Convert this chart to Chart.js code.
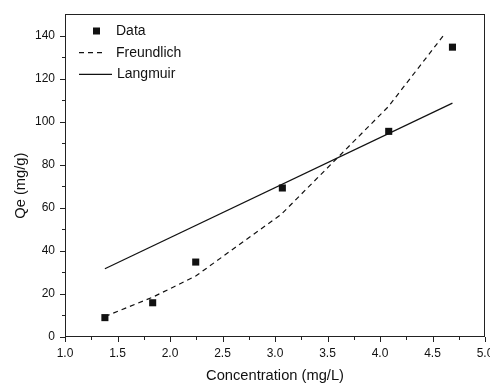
<!DOCTYPE html>
<html>
<head>
<meta charset="utf-8">
<script src="https://cdn.jsdelivr.net/npm/chart.js@4.4.1/dist/chart.umd.min.js"></script>
<style>
  html, body { margin: 0; padding: 0; background: #fff; }
  #chart { display: block; }
</style>
</head>
<body>
<canvas id="chart" width="490" height="383"></canvas>
<script>
// measured points
const dataX = [1.38, 1.835, 2.245, 3.07, 4.083, 4.69];
const dataY = [9.0, 15.9, 34.8, 69.2, 95.5, 134.6];

// fitted curves
const freundlichX = [1.38, 1.835, 2.245, 3.06, 4.08, 4.62];
const freundlichY = [9.5, 18.5, 28.3, 57, 107, 141];
const langmuirX = [1.38, 4.69];
const langmuirY = [31.7, 108.6];

const seriesNames = ['Data', 'Freundlich', 'Langmuir'];
const xTitle = 'Concentration (mg/L)';
const yTitle = 'Qe (mg/g)';

const toPoints = (xs, ys) => xs.map((x, i) => ({x: x, y: ys[i]}));

const FONT = "'Liberation Sans', Arial, sans-serif";
const INK = '#111';

// box round the plot + outward tick marks (major and minor)
const framePlugin = {
  id: 'frame',
  afterDraw(chart) {
    const ctx = chart.ctx;
    const a = chart.chartArea;
    const xs = chart.scales.x;
    const ys = chart.scales.y;
    ctx.save();
    ctx.strokeStyle = '#222';
    ctx.lineWidth = 1;
    ctx.strokeRect(a.left + 0.5, a.top + 0.5, a.right - a.left - 1, a.bottom - a.top - 1);
    ctx.beginPath();
    xs.ticks.forEach(t => {
      const px = Math.round(xs.getPixelForValue(t.value)) + 0.5;
      const len = (t.value % 0.5 === 0) ? 5 : 3;
      ctx.moveTo(px, a.bottom);
      ctx.lineTo(px, a.bottom + len);
    });
    ys.ticks.forEach(t => {
      if (t.value > 140) return;
      const py = Math.round(ys.getPixelForValue(t.value)) + 0.5;
      const len = (t.value % 20 === 0) ? 5 : 3;
      ctx.moveTo(a.left, py);
      ctx.lineTo(a.left - len, py);
    });
    ctx.stroke();
    ctx.restore();
  }
};

// legend in the top-left corner of the plot
const legendPlugin = {
  id: 'insideLegend',
  afterDraw(chart) {
    const ctx = chart.ctx;
    const a = chart.chartArea;
    const x0 = a.left + 14;
    const y0 = a.top + 17;
    const rowH = 21.7;
    ctx.save();
    ctx.font = '14px ' + FONT;
    ctx.textBaseline = 'middle';
    ctx.fillStyle = INK;
    ctx.strokeStyle = INK;
    chart.data.datasets.forEach((ds, i) => {
      const cy = y0 + i * rowH;
      if (ds.showLine === false) {
        ctx.fillRect(x0 + 14, cy - 3.5, 7, 7);
        ctx.fillText(ds.label, x0 + 37, cy);
      } else {
        ctx.lineWidth = ds.borderWidth;
        ctx.setLineDash(ds.borderDash || []);
        ctx.beginPath();
        const len = ds.borderDash ? 27 : 33;
        ctx.moveTo(x0, cy);
        ctx.lineTo(x0 + len, cy);
        ctx.stroke();
        ctx.setLineDash([]);
        ctx.fillText(ds.label, x0 + (ds.borderDash ? 37 : 38), cy);
      }
    });
    ctx.restore();
  }
};

const ctx = document.getElementById('chart').getContext('2d');
const chart = new Chart(ctx, {
  type: 'scatter',
  data: {
    datasets: [
      {
        label: seriesNames[0],
        data: toPoints(dataX, dataY),
        showLine: false,
        pointStyle: 'rect',
        pointRadius: 5,
        pointHoverRadius: 5,
        backgroundColor: INK,
        borderColor: INK,
        borderWidth: 0
      },
      {
        label: seriesNames[1],
        data: toPoints(freundlichX, freundlichY),
        showLine: true,
        borderColor: INK,
        borderWidth: 1.2,
        borderDash: [5, 4],
        pointRadius: 0,
        tension: 0
      },
      {
        label: seriesNames[2],
        data: toPoints(langmuirX, langmuirY),
        showLine: true,
        borderColor: INK,
        borderWidth: 1.2,
        pointRadius: 0,
        tension: 0
      }
    ]
  },
  options: {
    responsive: false,
    animation: false,
    devicePixelRatio: 1,
    layout: { padding: { top: 14, right: 4, left: 0, bottom: 0 } },
    plugins: {
      legend: { display: false },
      tooltip: { enabled: false }
    },
    scales: {
      x: {
        type: 'linear',
        min: 1,
        max: 5,
        border: { display: false },
        grid: { display: false, drawTicks: false },
        ticks: {
          stepSize: 0.25,
          autoSkip: false,
          maxRotation: 0,
          padding: 9,
          color: INK,
          font: { family: FONT, size: 12 },
          callback: v => (v % 0.5 === 0 ? v.toFixed(1) : '')
        },
        title: {
          display: true,
          text: xTitle,
          color: INK,
          font: { family: FONT, size: 14.7 },
          padding: { top: 0, bottom: -1.5 }
        },
        afterFit(scale) {
          scale.height = 46;
          scale.paddingLeft = 0;
          scale.paddingRight = 0;
        }
      },
      y: {
        type: 'linear',
        min: 0,
        max: 150,
        border: { display: false },
        grid: { display: false, drawTicks: false },
        ticks: {
          stepSize: 10,
          autoSkip: false,
          padding: 10,
          color: INK,
          font: { family: FONT, size: 12 },
          callback: v => (v % 20 === 0 && v < 150 ? String(v) : '')
        },
        title: {
          display: true,
          text: yTitle + '     ',
          color: INK,
          font: { family: FONT, size: 14.7 },
          padding: { top: 12, bottom: 0 }
        },
        afterFit(scale) {
          scale.width = 65;
          scale.paddingTop = 0;
          scale.paddingBottom = 0;
        }
      }
    }
  },
  plugins: [framePlugin, legendPlugin]
});
</script>
</body>
</html>
